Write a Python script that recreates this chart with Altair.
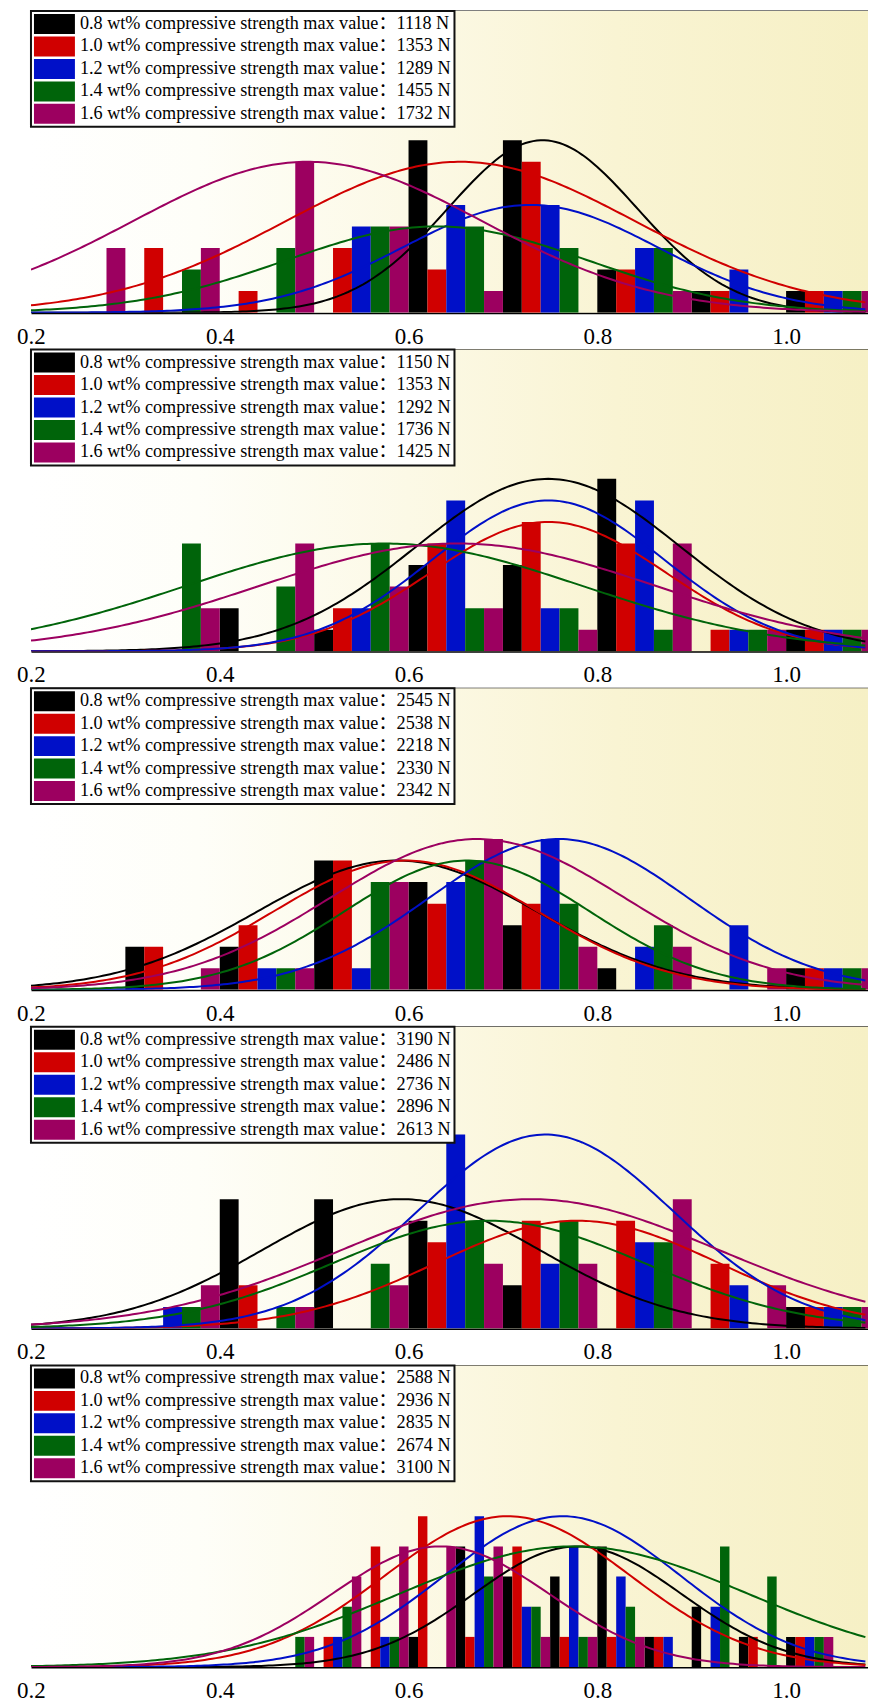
import altair as alt
import pandas as pd
import numpy as np

# ---------------- data ----------------
wt_levels = ["0.8", "1.0", "1.2", "1.4", "1.6"]
series_colors = ["#000000", "#D00000", "#0010C8", "#00640A", "#9C0060"]

max_values_1 = [1118, 1353, 1289, 1455, 1732]
max_values_2 = [1150, 1353, 1292, 1736, 1425]
max_values_3 = [2545, 2538, 2218, 2330, 2342]
max_values_4 = [3190, 2486, 2736, 2896, 2613]
max_values_5 = [2588, 2936, 2835, 2674, 3100]

bins_wide = [0.2, 0.3, 0.4, 0.5, 0.6, 0.7, 0.8, 0.9, 1.0]
bins_narrow = [0.45, 0.50, 0.55, 0.60, 0.65, 0.70, 0.75, 0.80, 0.85, 0.90, 0.95, 1.00]

# counts per series (0.8, 1.0, 1.2, 1.4, 1.6 wt%)
p1_counts = [
    [0, 0, 0, 0, 8, 8, 2, 1, 1],
    [0, 3, 1, 3, 2, 7, 2, 1, 1],
    [0, 0, 0, 4, 5, 5, 3, 2, 1],
    [0, 2, 3, 4, 4, 3, 3, 0, 1],
    [3, 3, 7, 4, 1, 0, 1, 0, 1],
]
p2_counts = [
    [0, 0, 2, 1, 4, 4, 8, 0, 1],
    [0, 0, 0, 2, 5, 6, 5, 1, 1],
    [0, 0, 0, 2, 7, 2, 7, 1, 1],
    [0, 5, 3, 5, 2, 2, 1, 1, 1],
    [0, 2, 5, 3, 2, 1, 5, 1, 1],
]
p3_counts = [
    [0, 2, 2, 6, 5, 3, 1, 0, 1],
    [0, 2, 3, 6, 4, 4, 0, 0, 1],
    [0, 0, 1, 1, 5, 7, 2, 3, 1],
    [0, 0, 1, 5, 6, 4, 3, 0, 1],
    [0, 1, 1, 5, 7, 2, 2, 1, 1],
]
p4_counts = [
    [0, 0, 6, 6, 5, 2, 0, 0, 1],
    [0, 0, 2, 0, 4, 5, 5, 3, 1],
    [0, 1, 0, 0, 9, 3, 4, 2, 1],
    [0, 1, 1, 3, 5, 5, 4, 0, 1],
    [0, 2, 1, 2, 3, 3, 6, 2, 1],
]
p5_counts = [
    [0, 0, 0, 1, 4, 3, 3, 4, 1, 2, 1, 1],
    [0, 1, 4, 5, 1, 4, 1, 1, 1, 0, 1, 1],
    [0, 1, 1, 0, 5, 2, 4, 3, 1, 2, 0, 1],
    [1, 2, 1, 0, 3, 2, 1, 2, 0, 4, 3, 1],
    [1, 3, 4, 4, 4, 1, 1, 1, 0, 0, 0, 1],
]

# fitted normal curves: (centre, spread, peak height)
p1_curves = [(0.742, 0.100, 8.0), (0.655, 0.185, 7.0), (0.729, 0.135, 5.0), (0.630, 0.160, 4.0), (0.493, 0.185, 7.0)]
p2_curves = [(0.748, 0.140, 8.0), (0.748, 0.125, 6.0), (0.748, 0.123, 7.0), (0.574, 0.210, 5.0), (0.652, 0.210, 5.0)]
p3_curves = [(0.588, 0.148, 6.0), (0.597, 0.140, 6.0), (0.759, 0.138, 7.0), (0.662, 0.130, 6.0), (0.673, 0.157, 7.0)]
p4_curves = [(0.592, 0.147, 6.0), (0.779, 0.150, 5.0), (0.745, 0.135, 9.0), (0.685, 0.165, 5.0), (0.729, 0.200, 6.0)]
p5_curves = [(0.779, 0.110, 4.0), (0.705, 0.130, 5.0), (0.763, 0.125, 5.0), (0.775, 0.185, 4.0), (0.634, 0.115, 4.0)]

y_max = [14, 14, 14, 14, 10]
bin_widths = [0.1, 0.1, 0.1, 0.1, 0.05]
x_ticks = [0.2, 0.4, 0.6, 0.8, 1.0]

# ---------------- layout ----------------
PLOT_W = 838
PLOT_H = 302
X_MIN = 0.2
X_MAX = 0.2 + PLOT_W / 945.0
SERIF = "Liberation Serif, 'Noto Sans CJK SC'"

panels_spec = [
    (max_values_1, bins_wide, p1_counts, p1_curves),
    (max_values_2, bins_wide, p2_counts, p2_curves),
    (max_values_3, bins_wide, p3_counts, p3_curves),
    (max_values_4, bins_wide, p4_counts, p4_curves),
    (max_values_5, bins_narrow, p5_counts, p5_curves),
]

gradient = alt.LinearGradient(
    gradient="linear",
    stops=[
        alt.GradientStop(color="#FFFFFF", offset=0),
        alt.GradientStop(color="#FEFEF8", offset=0.2),
        alt.GradientStop(color="#FCF9E6", offset=0.45),
        alt.GradientStop(color="#F9F4D3", offset=0.7),
        alt.GradientStop(color="#F6F0C5", offset=1),
    ],
    x1=0, x2=1, y1=0, y2=0,
)

legend_symbol = "M-1,-1H3.1V1H-1Z"


def make_panel(idx):
    maxv, bins, counts, curves = panels_spec[idx]
    labels = [f"{w} wt% compressive strength max value：{v} N" for w, v in zip(wt_levels, maxv)]
    bw = bin_widths[idx]
    sub = bw / 5.0
    rows = []
    for k, (lab, cnts) in enumerate(zip(labels, counts)):
        for b, c in zip(bins, cnts):
            if c > 0:
                rows.append({"label": lab, "x0": b + k * sub, "x1": b + (k + 1) * sub, "count": c})
    bars_df = pd.DataFrame(rows)

    xs = np.arange(X_MIN, X_MAX + 1e-9, 0.004)
    crow = []
    for k, lab in enumerate(labels):
        mu, sd, pk = curves[k]
        for x in xs:
            crow.append({"label": lab, "x": float(x), "y": float(pk * np.exp(-0.5 * ((x - mu) / sd) ** 2))})
    curve_df = pd.DataFrame(crow)

    xscale = alt.Scale(domain=[X_MIN, X_MAX], nice=False, zero=False)
    yscale = alt.Scale(domain=[0, y_max[idx]], nice=False)

    bg = alt.Chart(pd.DataFrame({"a": [0]})).mark_rect(color=gradient).encode(
        x=alt.value(0), x2=alt.value("width"), y=alt.value(0), y2=alt.value("height")
    )

    bars = alt.Chart(bars_df).mark_rect(clip=True).encode(
        x=alt.X("x0:Q", scale=xscale, title=None,
                axis=alt.Axis(orient="bottom", values=x_ticks, format=".1f",
                              labelFont="Liberation Serif", labelFontSize=23,
                              labelColor="black", labelPadding=12.5, labelFlush=False)),
        x2="x1:Q",
        y=alt.Y("count:Q", scale=yscale, title=None,
                axis=alt.Axis(orient="left", labels=False, ticks=False, grid=False)),
        y2=alt.datum(0),
        color=alt.Color("label:N", scale=alt.Scale(domain=labels, range=series_colors),
                        legend=alt.Legend(title=None)),
    )

    lines = alt.Chart(curve_df).mark_line(clip=True, strokeWidth=2).encode(
        x=alt.X("x:Q", scale=xscale, title=None,
                axis=alt.Axis(orient="top", labels=False, ticks=False, grid=False)),
        y=alt.Y("y:Q", scale=yscale, axis=None),
        stroke=alt.Stroke("label:N", scale=alt.Scale(domain=labels, range=series_colors), legend=None),
    )

    return alt.layer(bg, bars, lines).resolve_axis(x="independent").properties(
        width=PLOT_W, height=PLOT_H
    )


panels = [make_panel(i) for i in range(5)]

chart = (
    alt.vconcat(*panels, spacing=0)
    .resolve_scale(color="independent", stroke="independent", x="independent", y="independent")
    .resolve_legend(color="independent", stroke="independent")
    .properties(padding={"left": 8, "top": 1, "right": 0, "bottom": 0})
    .configure_view(stroke=None)
    .configure_axis(
        labelFont="Liberation Serif", labelFontSize=23, labelColor="black",
        domainColor="black", domainWidth=2, ticks=False, grid=False,
        labelPadding=12.5, labelFlush=False, zindex=1,
    )
    .configure_legend(
        orient="top-left", offset=0, padding=3, direction="vertical", columns=1,
        strokeColor="#111111", strokeWidth=2, fillColor="white",
        labelFont=SERIF, labelFontSize=18.2, labelColor="black", labelLimit=0,
        symbolType=legend_symbol, symbolSize=400, symbolStrokeWidth=0, symbolOffset=0,
        labelOffset=26, rowPadding=2.5,
    )
)

chart.save("out.html", embed_options={"renderer": "svg", "actions": False})
